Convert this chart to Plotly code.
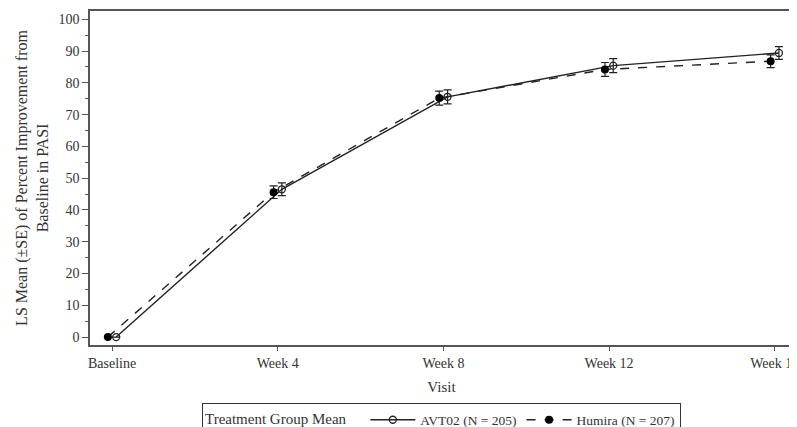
import plotly.graph_objects as go

visits = ["Baseline", "Week 4", "Week 8", "Week 12", "Week 16"]
avt02_mean = [0.0, 46.5, 75.6, 85.4, 89.4]
avt02_se = [0.0, 2.0, 2.2, 2.2, 2.0]
humira_mean = [0.0, 45.6, 75.2, 84.2, 86.8]
humira_se = [0.0, 2.0, 2.2, 2.2, 2.0]
y_ticks = [0, 10, 20, 30, 40, 50, 60, 70, 80, 90, 100]

offset = 0.025
x_idx = list(range(len(visits)))
x_avt = [i + offset for i in x_idx]
x_hum = [i - offset for i in x_idx]

FONT = "Liberation Serif"
INK = "#222222"

fig = go.Figure()
fig.add_trace(go.Scatter(
    x=x_avt, y=avt02_mean, mode="lines+markers", name="AVT02 (N = 205)",
    line=dict(color=INK, width=1.4, dash="solid"),
    marker=dict(symbol="circle-open", size=7, color=INK, line=dict(width=1.3)),
    error_y=dict(type="data", array=avt02_se, color=INK, thickness=1.2, width=4),
))
fig.add_trace(go.Scatter(
    x=x_hum, y=humira_mean, mode="lines+markers", name="Humira (N = 207)",
    line=dict(color=INK, width=1.4, dash="dash"),
    marker=dict(symbol="circle", size=8, color="black"),
    error_y=dict(type="data", array=humira_se, color=INK, thickness=1.2, width=4),
))

fig.update_layout(
    width=797, height=427,
    margin=dict(l=82, r=12, t=3, b=90, autoexpand=False),
    paper_bgcolor="white", plot_bgcolor="white",
    font=dict(family=FONT, color="#333333", size=13),
    showlegend=True,
    legend=dict(
        orientation="h",
        x=0.5, xanchor="center", y=-0.175, yanchor="top",
        bordercolor="#333333", borderwidth=1, bgcolor="white",
        title=dict(text="Treatment Group Mean   ", side="left", font=dict(size=15, family=FONT)),
        font=dict(size=13.5, family=FONT),
        itemwidth=45, tracegroupgap=0,
    ),
    xaxis=dict(
        range=[-0.133, 4.11], tickmode="array", tickvals=x_idx, ticktext=visits,
        showgrid=False, zeroline=False, showline=True, linecolor="#555555", linewidth=1.5,
        mirror=True, ticks="outside", ticklen=4, tickcolor="#555555",
        ticklabeloverflow="allow",
        title=dict(text="Visit", font=dict(size=15, family=FONT), standoff=12),
        tickfont=dict(size=14, family=FONT),
    ),
    yaxis=dict(
        range=[-2.5, 102.6], tickmode="array", tickvals=y_ticks,
        showgrid=False, zeroline=False, showline=True, linecolor="#555555", linewidth=1.5,
        mirror=True, ticks="outside", ticklen=6, tickcolor="#555555",
        minor=dict(ticks="outside", ticklen=3, dtick=5, tickcolor="#555555", showgrid=False),
        title=dict(text="LS Mean (±SE) of Percent Improvement from<br>Baseline in PASI",
                   font=dict(size=16, family=FONT), standoff=6),
        tickfont=dict(size=14, family=FONT),
    ),
)

fig.write_html("out.html")
